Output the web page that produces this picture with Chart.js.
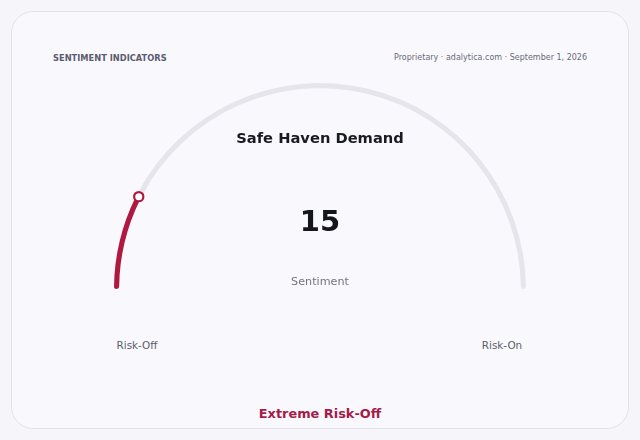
<!DOCTYPE html>
<html>
<head>
<meta charset="utf-8">
<script src="https://cdn.jsdelivr.net/npm/chart.js@4.4.1/dist/chart.umd.min.js"></script>
<style>
  html, body { margin: 0; padding: 0; background: #f6f6fa; font-family: "DejaVu Sans", sans-serif; }
  .card {
    position: absolute; left: 11px; top: 11px; width: 616px; height: 416px;
    border: 1px solid #e2e2ea; border-radius: 22px; background: #f9f9fd;
  }
  .txt { position: absolute; white-space: nowrap; }
  #kicker { left: 53px; top: 53px; font-size: 8.3px; font-weight: bold; color: #5c5c70; }
  #source { right: 53px; top: 53px; font-size: 8px; color: #6a6a78; }
  #title { left: 0; width: 640px; text-align: center; top: 129px; font-size: 14.7px; font-weight: bold; color: #1a1a22; }
  #value { left: 0; width: 640px; text-align: center; top: 204px; font-size: 29px; font-weight: bold; color: #15151c; }
  #unit { left: 0; width: 640px; text-align: center; top: 275px; font-size: 11.2px; color: #74747e; }
  .end { top: 339px; font-size: 10.4px; color: #5e5e6a; width: 120px; text-align: center; }
  #status { left: 0; width: 640px; text-align: center; top: 406px; font-size: 12.9px; font-weight: bold; color: #a51c48; }
  #gauge { position: absolute; left: 104px; top: 73px; }
</style>
</head>
<body>
<div class="card"></div>
<div class="txt" id="kicker">SENTIMENT INDICATORS</div>
<div class="txt" id="source">Proprietary · adalytica.com · September 1, 2026</div>
<div id="gauge"><canvas id="gaugeChart" width="432" height="226"></canvas></div>
<div class="txt" id="title"></div>
<div class="txt" id="value"></div>
<div class="txt" id="unit"></div>
<div class="txt end" id="endLeft"></div>
<div class="txt end" id="endRight"></div>
<div class="txt" id="status"></div>
<script>
// gauge data
const gaugeTitle = "Safe Haven Demand";
const gaugeValue = [15];
const gaugeRange = [0, 100];
const endLabels = ["Risk-Off", "Risk-On"];
const unitLabel = "Sentiment";
const statusLabel = "Extreme Risk-Off";

const fillColor = "#b0193f";
const trackColor = "#e5e5eb";

document.getElementById("title").textContent = gaugeTitle;
document.getElementById("value").textContent = gaugeValue[0];
document.getElementById("unit").textContent = unitLabel;
document.getElementById("status").textContent = statusLabel;

const leftEl = document.getElementById("endLeft");
const rightEl = document.getElementById("endRight");
leftEl.textContent = endLabels[0];
rightEl.textContent = endLabels[1];
leftEl.style.left = (137 - 60) + "px";
rightEl.style.left = (502 - 60) + "px";

// handle at the end of the filled arc
const handlePlugin = {
    id: "handle",
    afterDatasetsDraw(chart) {
        const arc = chart.getDatasetMeta(0).data[0];
        if (!arc) return;
        const p = arc.getProps(["x", "y", "endAngle", "innerRadius", "outerRadius"], true);
        const r = (p.innerRadius + p.outerRadius) / 2;
        const ctx = chart.ctx;
        ctx.save();
        ctx.beginPath();
        ctx.arc(p.x + r * Math.cos(p.endAngle), p.y + r * Math.sin(p.endAngle), 4.6, 0, Math.PI * 2);
        ctx.fillStyle = "#ffffff";
        ctx.fill();
        ctx.lineWidth = 2.2;
        ctx.strokeStyle = fillColor;
        ctx.stroke();
        ctx.restore();
    }
};

const span = gaugeRange[1] - gaugeRange[0];
const filled = gaugeValue[0] - gaugeRange[0];

new Chart(document.getElementById("gaugeChart"), {
    type: "doughnut",
    data: {
        labels: ["value", "rest"],
        datasets: [{
            data: [filled, span - filled],
            backgroundColor: [fillColor, trackColor],
            borderWidth: 0,
            borderRadius: 2.5
        }]
    },
    options: {
        responsive: false,
        animation: false,
        rotation: -90,
        circumference: 180,
        cutout: "97.5%",
        layout: { padding: 10 },
        plugins: {
            legend: { display: false },
            tooltip: { enabled: false }
        }
    },
    plugins: [handlePlugin]
});
</script>
</body>
</html>
